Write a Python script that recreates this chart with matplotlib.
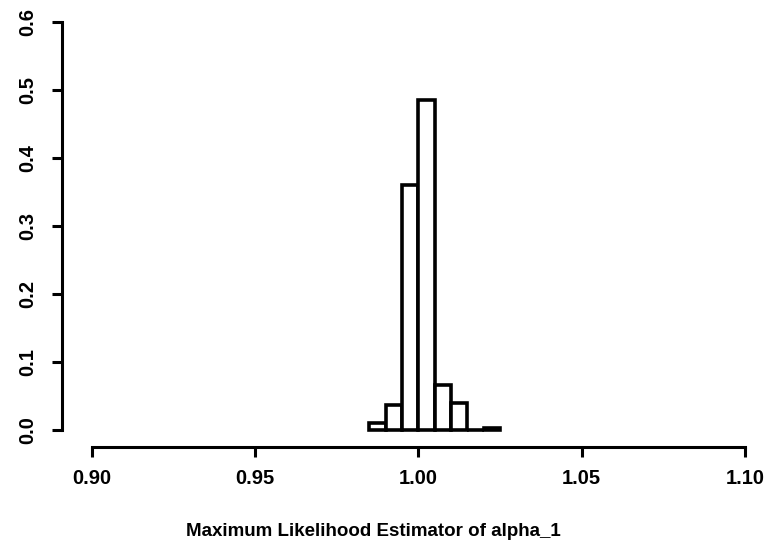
import numpy as np
import matplotlib.pyplot as plt

# relative frequencies of the estimator, bin width 0.005
bin_left = [0.985, 0.990, 0.995, 1.000, 1.005, 1.010, 1.015, 1.020]
freq = [0.010, 0.037, 0.360, 0.485, 0.066, 0.040, 0.000, 0.003]
xticks = [0.90, 0.95, 1.00, 1.05, 1.10]
yticks = [0.0, 0.1, 0.2, 0.3, 0.4, 0.5, 0.6]

plt.rcParams['font.family'] = ['Liberation Sans', 'DejaVu Sans']
plt.rcParams['font.weight'] = 'bold'

fig = plt.figure(figsize=(7.69, 5.48), dpi=100)
ax = fig.add_axes([62/769, 1 - 447/548, (771 - 62)/769, (447 - 5.7)/548])

ax.bar(bin_left, freq, width=0.005, align='edge', facecolor='white',
       edgecolor='black', linewidth=2.6)

ax.set_xlim(0.90 - 30/3265, 1.108)
ax.set_ylim(-0.025, 0.624)

for s in ['top', 'right']:
    ax.spines[s].set_visible(False)
ax.spines['left'].set_bounds(0.0, 0.6)
ax.spines['bottom'].set_bounds(0.90, 1.10)
for s in ['left', 'bottom']:
    ax.spines[s].set_linewidth(2.2)

ax.set_xticks(xticks)
ax.set_xticklabels(['%.2f' % v for v in xticks], fontsize=14.5, fontweight='bold')
ax.set_yticks(yticks)
ax.set_yticklabels(['%.1f' % v for v in yticks], fontsize=14.5, fontweight='bold',
                   rotation=90, va='center')
ax.tick_params(axis='x', direction='out', length=7, width=2.2, pad=9)
ax.tick_params(axis='y', direction='out', length=7, width=2.2, pad=11)

ax.set_xlabel('Maximum Likelihood Estimator of alpha_1', fontsize=13.5,
              fontweight='bold')
ax.xaxis.set_label_coords(0.439, -0.172)

fig.savefig('out.png', dpi=100)
